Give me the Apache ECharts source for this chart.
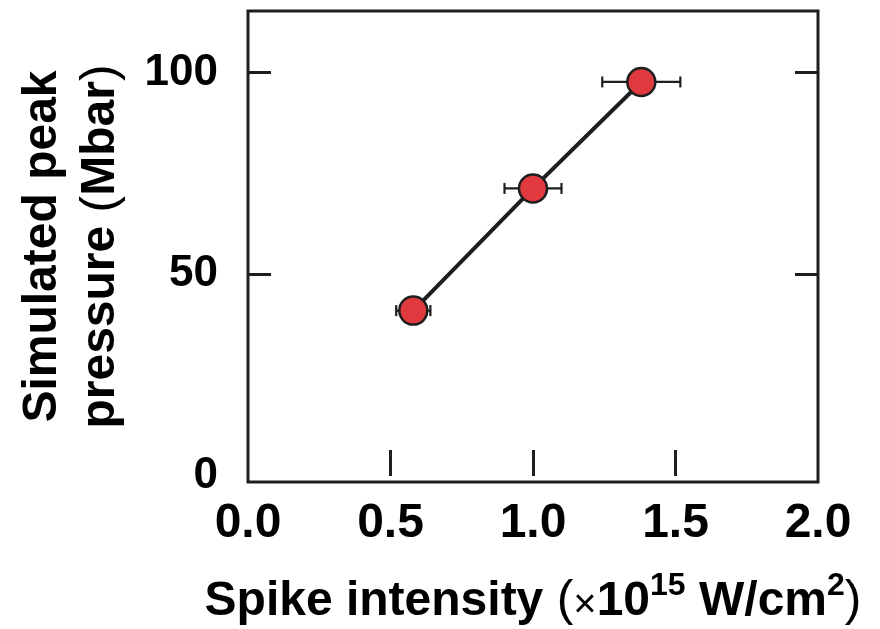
<!DOCTYPE html>
<html>
<head>
<meta charset="utf-8">
<script src="https://cdn.jsdelivr.net/npm/echarts@6/dist/echarts.min.js"></script>
<style>html,body{margin:0;padding:0;background:#fff}#c{width:880px;height:629px}</style>
</head>
<body>
<div id="c"></div>
<script>
// Data
const xVals = [0.58, 1.0, 1.38];      // spike intensity (x1e15 W/cm2)
const yVals = [41.0, 71.3, 97.7];     // simulated peak pressure (Mbar)
const xErr  = [0.06, 0.10, 0.137];    // horizontal error half-widths
const xTickLabels = [0, 0.5, 1.0, 1.5, 2.0];
const yTickLabels = [0, 50, 100];

const FONT = '"Liberation Sans", Helvetica, Arial, sans-serif';
const INK = '#1e1e1e';

const points = xVals.map((x, i) => [x, yVals[i]]);
const errData = xVals.map((x, i) => [x, yVals[i], xErr[i]]);

const chart = echarts.init(document.getElementById('c'), null, {renderer: 'canvas'});
chart.setOption({
  animation: false,
  backgroundColor: '#fff',
  grid: {left: 248, right: 62, top: 11, bottom: 147, show: true, borderColor: INK, borderWidth: 3,
    containLabel: false, outerBoundsMode: 'none'},
  xAxis: [{
    type: 'value', min: 0, max: 2,
    axisLine: {show: false},
    splitLine: {show: false},
    axisTick: {show: true, inside: true, length: 26, lineStyle: {color: INK, width: 3}, customValues: [0.5, 1.0, 1.5]},
    axisLabel: {show: true, customValues: xTickLabels, margin: 18, fontFamily: FONT, fontWeight: 'bold', fontSize: 48, color: '#000',
      formatter: v => v.toFixed(1)},
    name: '{b|Spike intensity }{p|(}{r|×}{b|10}{s|15}{b| W/cm}{s|2}{p|)}',
    nameLocation: 'middle', nameGap: 88,
    nameTextStyle: {
      rich: {
        b: {fontFamily: FONT, fontWeight: 'bold', fontSize: 48, color: '#000', verticalAlign: 'bottom', lineHeight: 56},
        p: {fontFamily: FONT, fontWeight: 'normal', fontSize: 50, color: '#000', verticalAlign: 'bottom', lineHeight: 56},
        r: {fontFamily: FONT, fontWeight: 'normal', fontSize: 40, color: '#000', verticalAlign: 'bottom', lineHeight: 50},
        s: {fontFamily: FONT, fontWeight: 'bold', fontSize: 32, color: '#000', verticalAlign: 'top', lineHeight: 26}
      }
    }
  }],
  yAxis: [{
    type: 'value', min: -1.5, max: 115.3, position: 'left',
    axisLine: {show: false},
    splitLine: {show: false},
    axisTick: {show: true, inside: true, length: 23, lineStyle: {color: INK, width: 3}, customValues: [50, 100]},
    axisLabel: {show: true, customValues: yTickLabels, margin: 30, fontFamily: FONT, fontWeight: 'bold', fontSize: 44, color: '#000'},
    name: '{b|Simulated peak}\n{b|pressure }{p|(}{b|Mbar}{p|)}',
    nameLocation: 'middle', nameGap: 118, nameRotate: 90,
    nameTextStyle: {
      rich: {
        b: {fontFamily: FONT, fontWeight: 'bold', fontSize: 48, color: '#000', lineHeight: 58},
        p: {fontFamily: FONT, fontWeight: 'normal', fontSize: 50, color: '#000', lineHeight: 58}
      }
    }
  }, {
    type: 'value', min: -1.5, max: 115.3, position: 'right',
    axisLine: {show: false},
    splitLine: {show: false},
    axisTick: {show: true, inside: true, length: 23, lineStyle: {color: INK, width: 3}, customValues: [50, 100]},
    axisLabel: {show: false}
  }],
  series: [{
    type: 'custom',
    coordinateSystem: 'cartesian2d',
    data: errData,
    z: 2,
    renderItem: function (params, api) {
      const x = api.value(0), y = api.value(1), e = api.value(2);
      const p1 = api.coord([x - e, y]);
      const p2 = api.coord([x + e, y]);
      const cap = 5.5;
      const st = {stroke: INK, lineWidth: 2.2};
      return {type: 'group', children: [
        {type: 'line', shape: {x1: p1[0], y1: p1[1], x2: p2[0], y2: p2[1]}, style: st},
        {type: 'line', shape: {x1: p1[0], y1: p1[1] - cap, x2: p1[0], y2: p1[1] + cap}, style: st},
        {type: 'line', shape: {x1: p2[0], y1: p2[1] - cap, x2: p2[0], y2: p2[1] + cap}, style: st}
      ]};
    }
  }, {
    type: 'line',
    data: points,
    z: 3,
    symbol: 'circle',
    symbolSize: 28,
    lineStyle: {color: INK, width: 4},
    itemStyle: {color: '#e03a3e', borderColor: INK, borderWidth: 2.5},
    emphasis: {disabled: true}
  }]
});
</script>
</body>
</html>
